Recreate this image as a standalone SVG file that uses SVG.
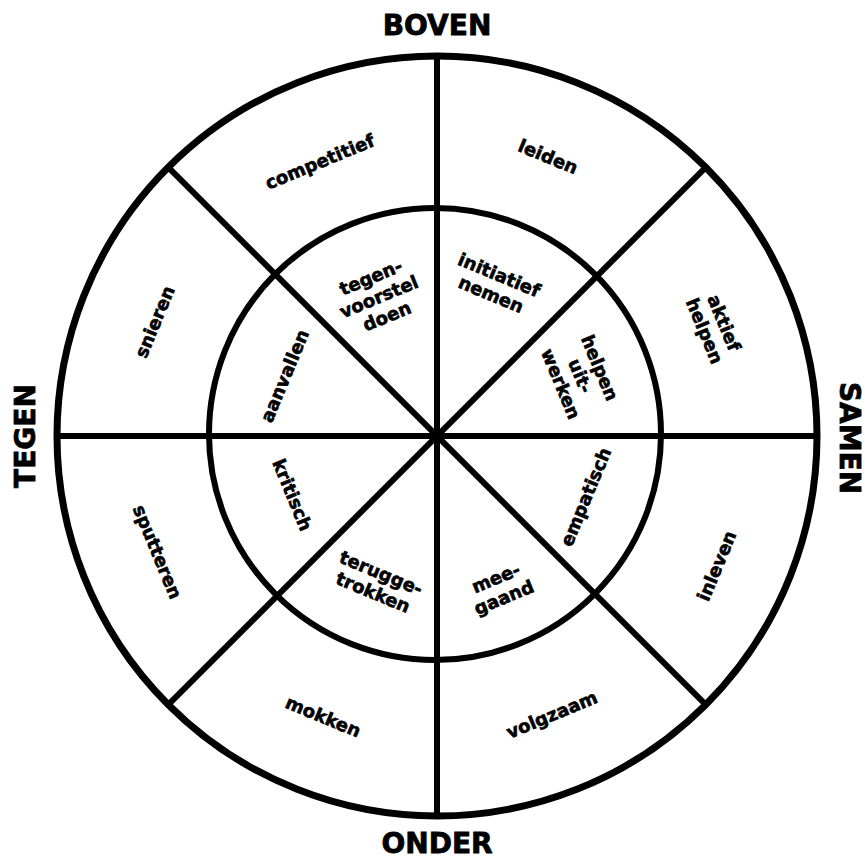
<svg xmlns="http://www.w3.org/2000/svg" width="865" height="859" viewBox="0 0 865 859">
<style>
.ring{fill:none;stroke:#000;}
.ln{stroke:#000;stroke-width:6;stroke-linecap:butt;}
.lbl{font-family:"DejaVu Sans",sans-serif;font-weight:bold;font-size:18px;fill:#000;stroke:#000;stroke-width:0.6;text-anchor:middle;}
.big{font-family:"DejaVu Sans",sans-serif;font-weight:bold;font-size:28px;fill:#000;stroke:#000;stroke-width:0.8;text-anchor:middle;}
</style>
<rect width="865" height="859" fill="#fff"/>
<g id="rings">
<circle class="ring" cx="437" cy="436" r="380" stroke-width="7"/>
<circle class="ring" cx="435" cy="434" r="226" stroke-width="6"/>
</g>
<g id="connectors">
<line class="ln" x1="437" y1="56" x2="437" y2="816"/>
<line class="ln" x1="57" y1="436" x2="817" y2="436"/>
<line class="ln" x1="168.3" y1="167.3" x2="705.7" y2="704.7"/>
<line class="ln" x1="705.7" y1="167.3" x2="168.3" y2="704.7"/>
</g>
<g id="axis-labels">
<text id="boven" class="big" x="437" y="35">BOVEN</text>
<text id="onder" class="big" x="437" y="853">ONDER</text>
<text id="tegen" class="big" transform="translate(35,436) rotate(-90)">TEGEN</text>
<text id="samen" class="big" transform="translate(840,438) rotate(90)">SAMEN</text>
</g>
<g id="outer-ring">
<g id="n-competitief"><text class="lbl" transform="translate(320,162) rotate(-22.5)" y="6">competitief</text></g>
<g id="n-leiden"><text class="lbl" transform="translate(548,157) rotate(22.5)" y="6">leiden</text></g>
<g id="n-aktief-helpen"><text class="lbl" transform="translate(714,327) rotate(67.5)"><tspan x="0" y="-4.5">aktief</tspan><tspan x="0" y="16.5">helpen</tspan></text></g>
<g id="n-inleven"><text class="lbl" transform="translate(717,566) rotate(-67.5)" y="6">inleven</text></g>
<g id="n-volgzaam"><text class="lbl" transform="translate(552,715) rotate(-22.5)" y="6">volgzaam</text></g>
<g id="n-mokken"><text class="lbl" transform="translate(323,717) rotate(22.5)" y="6">mokken</text></g>
<g id="n-sputteren"><text class="lbl" transform="translate(157,552) rotate(67.5)" y="6">sputteren</text></g>
<g id="n-snieren"><text class="lbl" transform="translate(155,322) rotate(-67.5)" y="6">snieren</text></g>
</g>
<g id="inner-ring">
<g id="n-tegenvoorstel"><text class="lbl" transform="translate(379,297) rotate(-22.5)"><tspan x="0" y="-15">tegen-</tspan><tspan x="0" y="6">voorstel</tspan><tspan x="0" y="27">doen</tspan></text></g>
<g id="n-initiatief"><text class="lbl" transform="translate(495,285) rotate(22.5)"><tspan x="0" y="-4.5">initiatief</tspan><tspan x="0" y="16.5">nemen</tspan></text></g>
<g id="n-helpen-uitwerken"><text class="lbl" transform="translate(580,376) rotate(67.5)"><tspan x="0" y="-15">helpen</tspan><tspan x="0" y="6">uit-</tspan><tspan x="0" y="27">werken</tspan></text></g>
<g id="n-empatisch"><text class="lbl" transform="translate(586,497) rotate(-67.5)" y="6">empatisch</text></g>
<g id="n-meegaand"><text class="lbl" transform="translate(500,588) rotate(-22.5)"><tspan x="0" y="-4.5">mee-</tspan><tspan x="0" y="16.5">gaand</tspan></text></g>
<g id="n-teruggetrokken"><text class="lbl" transform="translate(377,583) rotate(22.5)"><tspan x="0" y="-4.5">terugge-</tspan><tspan x="0" y="16.5">trokken</tspan></text></g>
<g id="n-kritisch"><text class="lbl" transform="translate(292,495) rotate(67.5)" y="6">kritisch</text></g>
<g id="n-aanvallen"><text class="lbl" transform="translate(285,376) rotate(-67.5)" y="6">aanvallen</text></g>
</g>
</svg>
